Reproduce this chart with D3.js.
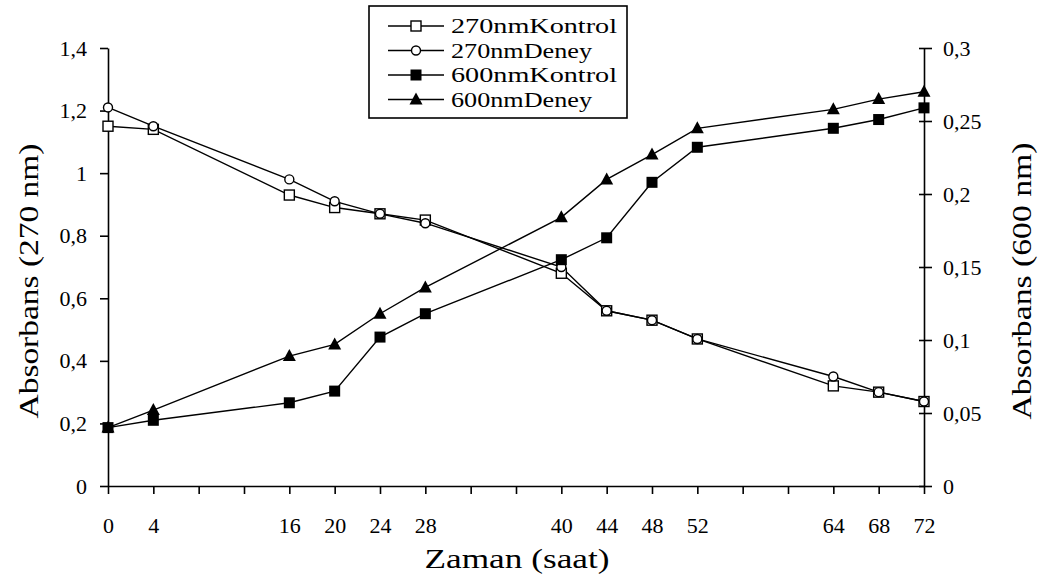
<!DOCTYPE html>
<html>
<head>
<meta charset="utf-8">
<script src="https://cdn.jsdelivr.net/npm/d3@7"></script>
<style>
  html, body { margin: 0; padding: 0; background: #fff; }
  svg { display: block; }
  svg text { font-family: "Times New Roman", "Liberation Serif", "DejaVu Serif", serif !important; fill: #000; font-weight: normal; }
</style>
</head>
<body>
<svg id="chart" width="1043" height="582"></svg>
<script>
// ---- data ----
const hours = [0, 4, 16, 20, 24, 28, 40, 44, 48, 52, 64, 68, 72];
const kontrol270 = [1.15, 1.14, 0.93, 0.89, 0.87, 0.85, 0.68, 0.56, 0.53, 0.47, 0.32, 0.30, 0.27];
const deney270   = [1.21, 1.15, 0.98, 0.91, 0.87, 0.84, 0.70, 0.56, 0.53, 0.47, 0.35, 0.30, 0.27];
const kontrol600 = [0.040, 0.045, 0.057, 0.065, 0.102, 0.118, 0.155, 0.170, 0.208, 0.232, 0.245, 0.251, 0.259];
const deney600   = [0.040, 0.052, 0.089, 0.097, 0.118, 0.136, 0.184, 0.210, 0.227, 0.245, 0.258, 0.265, 0.270];
const leftTicks  = [0, 0.2, 0.4, 0.6, 0.8, 1, 1.2, 1.4];
const rightTicks = [0, 0.05, 0.1, 0.15, 0.2, 0.25, 0.3];
const seriesNames = ["270nmKontrol", "270nmDeney", "600nmKontrol", "600nmDeney"];
const xTitle = "Zaman (saat)";
const yLeftTitle = "Absorbans (270 nm)";
const yRightTitle = "Absorbans (600 nm)";

// ---- layout ----
const FONT = "'Times New Roman', 'Liberation Serif', 'DejaVu Serif', serif";
const svg = d3.select("#chart");
const x0 = 108, x1 = 924, yTop = 48, yBot = 486;
const x = d3.scaleLinear().domain([0, 72]).range([x0, x1]);
const yL = d3.scaleLinear().domain([0, 1.4]).range([yBot, yTop]);
const yR = d3.scaleLinear().domain([0, 0.3]).range([yBot, yTop]);
const fmt = d => d3.format("")(d).replace(".", ",");

// x axis
const xAxis = svg.append("g").attr("transform", `translate(0,${yBot})`)
  .call(d3.axisBottom(x).tickValues(d3.range(0, 73, 4)).tickSizeInner(8).tickSizeOuter(0).tickPadding(23)
    .tickFormat(d => hours.includes(d) ? String(d) : ""));
// left axis
const lAxis = svg.append("g").attr("transform", `translate(${x0},0)`)
  .call(d3.axisLeft(yL).tickValues(leftTicks).tickSizeInner(8).tickSizeOuter(0).tickPadding(13).tickFormat(fmt));
// right axis
const rAxis = svg.append("g").attr("transform", `translate(${x1},0)`)
  .call(d3.axisRight(yR).tickValues(rightTicks).tickSizeInner(8).tickSizeOuter(0).tickPadding(11).tickFormat(fmt));
rAxis.selectAll(".tick line").attr("x1", -5).attr("x2", 8);

[xAxis, lAxis, rAxis].forEach(g => {
  g.attr("font-family", FONT).attr("font-size", 22);
  g.selectAll("path.domain").attr("stroke", "#000").attr("stroke-width", 1.6);
  g.selectAll(".tick line").attr("stroke", "#000").attr("stroke-width", 1.6);
  g.selectAll(".tick text").attr("fill", "#000");
});

// axis titles
svg.append("text").attr("x", (x(0) + x(72)) / 2 + 1).attr("y", 568)
  .attr("text-anchor", "middle").attr("font-size", 27)
  .attr("textLength", 185).attr("lengthAdjust", "spacingAndGlyphs").text(xTitle);
svg.append("text").attr("transform", "translate(29,281) rotate(-90)")
  .attr("text-anchor", "middle").attr("dominant-baseline", "central").attr("font-size", 27)
  .attr("textLength", 275).attr("lengthAdjust", "spacingAndGlyphs").text(yLeftTitle);
svg.append("text").attr("transform", "translate(1022,281) rotate(-90)")
  .attr("text-anchor", "middle").attr("dominant-baseline", "central").attr("font-size", 27)
  .attr("textLength", 277).attr("lengthAdjust", "spacingAndGlyphs").text(yRightTitle);

// ---- series ----
const series = [
  { name: seriesNames[0], vals: kontrol270, y: yL, marker: "sqOpen" },
  { name: seriesNames[1], vals: deney270,   y: yL, marker: "circOpen" },
  { name: seriesNames[2], vals: kontrol600, y: yR, marker: "sqFill" },
  { name: seriesNames[3], vals: deney600,   y: yR, marker: "tri" }
];

function drawMarker(g, type, cx, cy) {
  if (type === "sqOpen") {
    g.append("rect").attr("x", cx - 5).attr("y", cy - 5).attr("width", 10).attr("height", 10)
      .attr("fill", "#fff").attr("stroke", "#000").attr("stroke-width", 1.4);
  } else if (type === "circOpen") {
    g.append("circle").attr("cx", cx).attr("cy", cy).attr("r", 4.5)
      .attr("fill", "#fff").attr("stroke", "#000").attr("stroke-width", 1.4);
  } else if (type === "sqFill") {
    g.append("rect").attr("x", cx - 5.5).attr("y", cy - 5.5).attr("width", 11).attr("height", 11)
      .attr("fill", "#000");
  } else if (type === "tri") {
    g.append("path").attr("d", `M${cx},${cy - 7}L${cx + 6.5},${cy + 5}L${cx - 6.5},${cy + 5}Z`)
      .attr("fill", "#000");
  }
}

const plot = svg.append("g");
series.forEach(s => {
  const pts = hours.map((h, i) => [x(h), s.y(s.vals[i])]);
  plot.append("path").attr("d", d3.line()(pts)).attr("fill", "none")
    .attr("stroke", "#000").attr("stroke-width", 1.4);
});
series.forEach(s => {
  const g = plot.append("g");
  hours.forEach((h, i) => drawMarker(g, s.marker, x(h), s.y(s.vals[i])));
});

// ---- legend ----
const leg = svg.append("g");
leg.append("rect").attr("x", 369).attr("y", 6).attr("width", 258).attr("height", 112)
  .attr("fill", "#fff").attr("stroke", "#000").attr("stroke-width", 1.6);
const legendWidths = [166, 141, 166, 141];
series.forEach((s, i) => {
  const cy = 26 + i * 24.5;
  leg.append("line").attr("x1", 388).attr("x2", 444).attr("y1", cy).attr("y2", cy)
    .attr("stroke", "#000").attr("stroke-width", 1.4);
  drawMarker(leg, s.marker, 416, cy);
  leg.append("text").attr("x", 451).attr("y", cy).attr("dominant-baseline", "central")
    .attr("font-size", 20).attr("textLength", legendWidths[i]).attr("lengthAdjust", "spacingAndGlyphs")
    .text(s.name);
});
</script>
</body>
</html>
